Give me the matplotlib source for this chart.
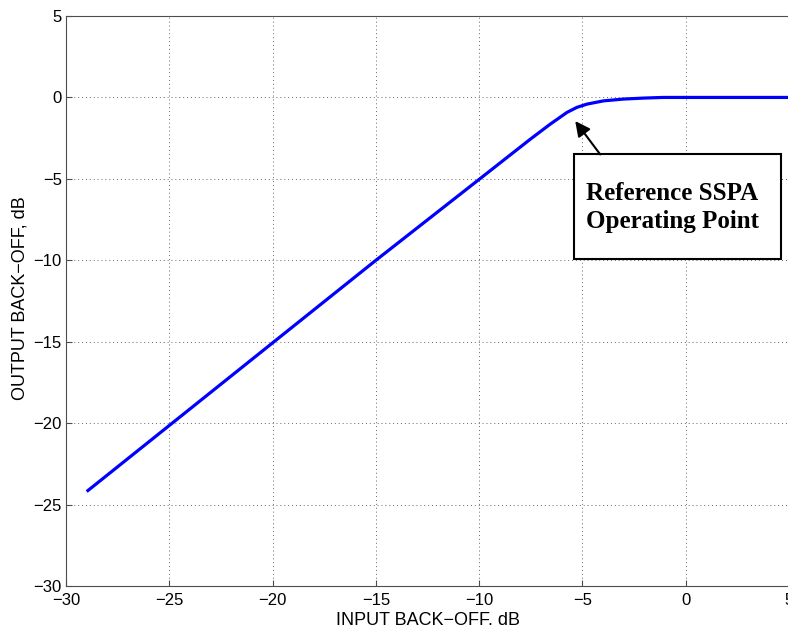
import matplotlib.pyplot as plt
from matplotlib.patches import Rectangle

ibo = [-29.0, -20.0, -15.0, -10.0, -7.52, -6.56, -5.75, -5.27, -4.78,
       -3.98, -3.01, -2.05, -1.1, 0.0, 5.0]
obo = [-24.2, -15.07, -10.0, -5.03, -2.56, -1.64, -0.92, -0.61, -0.41,
       -0.21, -0.10, -0.04, 0.0, 0.0, 0.0]

xticks = [-30, -25, -20, -15, -10, -5, 0, 5]
yticks = [-30, -25, -20, -15, -10, -5, 0, 5]

note = "Reference SSPA\nOperating Point"
op_point = (-5.35, -1.45)

plt.rcParams['font.family'] = ['Liberation Sans', 'DejaVu Sans']

fig = plt.figure(figsize=(7.88, 6.28), dpi=100)
ax = fig.add_axes([0.0838, 0.0669, 0.9175, 0.9076])

ax.plot(ibo, obo, color='#0000ff', lw=2.3, solid_capstyle='butt',
        solid_joinstyle='round')

ax.set_xlim(-30, 5)
ax.set_ylim(-30, 5)
ax.set_xticks(xticks)
ax.set_yticks(yticks)
ax.set_xticklabels(['\u2212%d' % -t if t < 0 else '%d' % t for t in xticks])
ax.set_yticklabels(['\u2212%d' % -t if t < 0 else '%d' % t for t in yticks])
ax.tick_params(direction='in', length=4, width=0.8, color='0.3',
               labelsize=12, pad=3)
ax.tick_params(axis='x', pad=5)
ax.grid(True, color='0.4', linestyle=(0, (1, 3)), linewidth=0.7)
for s in ax.spines.values():
    s.set_color('0.3')
    s.set_linewidth(0.8)

ax.set_xlabel('INPUT BACK\u2212OFF. dB', fontsize=13, va='center')
ax.set_ylabel('OUTPUT BACK\u2212OFF, dB', fontsize=13, va='center')
ax.xaxis.set_label_coords(0.5, -0.0605)
ax.yaxis.set_label_coords(-0.063, 0.505)

# annotation box + arrow
box = Rectangle((-5.4, -9.94), 10.0, 6.44, facecolor='white',
                edgecolor='black', lw=1.5, zorder=5)
ax.add_patch(box)
ax.text(-4.85, -6.75, note, fontsize=18, fontweight='bold',
        family='Liberation Serif', va='center', ha='left',
        linespacing=1.3, zorder=6)
ax.annotate('', xy=op_point, xytext=(-4.14, -3.5),
            arrowprops=dict(arrowstyle='-|>,head_length=0.9,head_width=0.45',
                            color='black', lw=1.5, shrinkA=0, shrinkB=0),
            zorder=6)

fig.savefig('out.png', dpi=100)
